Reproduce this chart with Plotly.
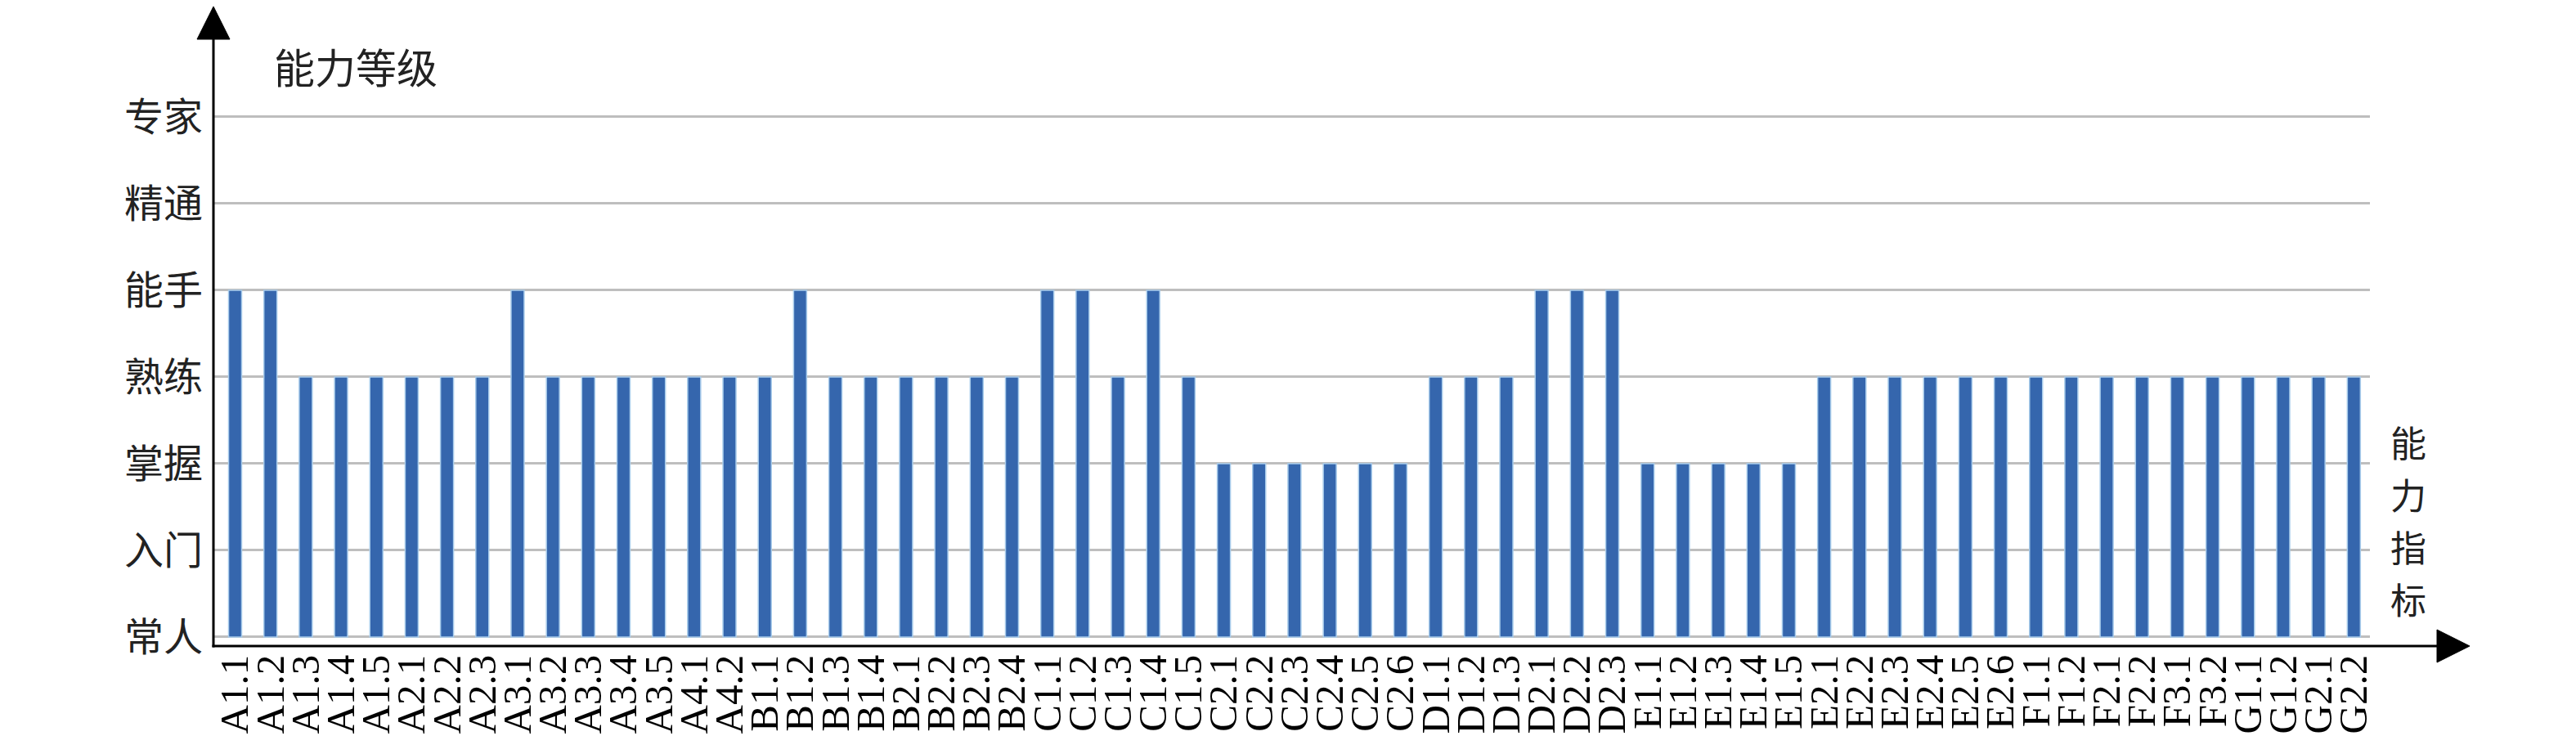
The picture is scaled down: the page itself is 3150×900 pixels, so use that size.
import plotly.graph_objects as go

# ---- data ----
indicators = [
    "A1.1", "A1.2", "A1.3", "A1.4", "A1.5", "A2.1", "A2.2", "A2.3",
    "A3.1", "A3.2", "A3.3", "A3.4", "A3.5", "A4.1", "A4.2",
    "B1.1", "B1.2", "B1.3", "B1.4", "B2.1", "B2.2", "B2.3", "B2.4",
    "C1.1", "C1.2", "C1.3", "C1.4", "C1.5",
    "C2.1", "C2.2", "C2.3", "C2.4", "C2.5", "C2.6",
    "D1.1", "D1.2", "D1.3", "D2.1", "D2.2", "D2.3",
    "E1.1", "E1.2", "E1.3", "E1.4", "E1.5",
    "E2.1", "E2.2", "E2.3", "E2.4", "E2.5", "E2.6",
    "F1.1", "F1.2", "F2.1", "F2.2", "F3.1", "F3.2",
    "G1.1", "G1.2", "G2.1", "G2.2",
]
levels = [
    4, 4, 3, 3, 3, 3, 3, 3,
    4, 3, 3, 3, 3, 3, 3,
    3, 4, 3, 3, 3, 3, 3, 3,
    4, 4, 3, 4, 3,
    2, 2, 2, 2, 2, 2,
    3, 3, 3, 4, 4, 4,
    2, 2, 2, 2, 2,
    3, 3, 3, 3, 3, 3,
    3, 3, 3, 3, 3, 3,
    3, 3, 3, 3,
]
level_names = ["常人", "入门", "掌握", "熟练", "能手", "精通", "专家"]
y_title = "能力等级"
x_title = "能力指标"

# ---- layout geometry (pixels) ----
W, H = 3150, 900
L, R, T, B = 253, 2890, 40, 782
pw, ph = R - L, B - T

def px(x):
    return (x - L) / pw

def py(y):
    return (B - y) / ph

CJK = "Noto Sans CJK SC"
SERIF = "Liberation Serif"

fig = go.Figure()
fig.add_trace(go.Bar(
    x=list(range(len(indicators))),
    y=levels,
    width=0.37,
    marker=dict(color="#3566AD", line=dict(color="#A8CCEB", width=1.5)),
    hoverinfo="skip",
))

shapes = [
    # x axis line
    dict(type="line", xref="paper", yref="paper", x0=px(L - 1.5), x1=px(2975), y0=0, y1=0,
         line=dict(color="black", width=3)),
    # y axis line
    dict(type="line", xref="paper", yref="paper", x0=0, x1=0, y0=py(B + 1.5), y1=py(38),
         line=dict(color="black", width=3)),
    # x arrow head
    dict(type="path", xref="paper", yref="paper",
         path=f"M {px(2972)},{py(B - 20)} L {px(3012)},{py(B)} L {px(2972)},{py(B + 20)} Z",
         fillcolor="black", line=dict(color="black", width=1)),
    # y arrow head
    dict(type="path", xref="paper", yref="paper",
         path=f"M {px(L - 20)},{py(40)} L {px(L)},{py(0)} L {px(L + 20)},{py(40)} Z",
         fillcolor="black", line=dict(color="black", width=1)),
]

annotations = [
    dict(text=y_title, xref="paper", yref="paper", x=px(427), y=py(72),
         xanchor="center", yanchor="middle", showarrow=False,
         font=dict(family=CJK, size=50, color="#222222")),
]
# vertical x-axis title, one character per annotation
for i, ch in enumerate(x_title):
    annotations.append(dict(
        text=ch, xref="paper", yref="paper", x=px(2937), y=py(532 + 64 * i),
        xanchor="center", yanchor="middle", showarrow=False,
        font=dict(family=CJK, size=44, color="#222222")))

fig.update_layout(
    template="none",
    width=W, height=H,
    margin=dict(l=L, r=W - R, t=T, b=H - B, pad=0),
    paper_bgcolor="white", plot_bgcolor="white",
    showlegend=False,
    shapes=shapes,
    annotations=annotations,
)

fig.update_xaxes(
    type="linear",
    automargin=False,
    range=[-0.614, 60.455],
    tickmode="array",
    tickvals=list(range(len(indicators))),
    ticktext=indicators,
    tickangle=-90,
    tickfont=dict(family=SERIF, size=49, color="black"),
    ticks="", showgrid=False, zeroline=False, showline=False,
)
fig.update_yaxes(
    automargin=False,
    range=[-0.104, 6.896],
    tickmode="array",
    tickvals=list(range(len(level_names))),
    ticktext=level_names,
    tickfont=dict(family=CJK, size=48, color="#222222"),
    ticks="", showgrid=True, gridcolor="#BEBEBE", gridwidth=3,
    zeroline=False, showline=False,
    ticklabelstandoff=12,
)

fig.write_html("out.html")
